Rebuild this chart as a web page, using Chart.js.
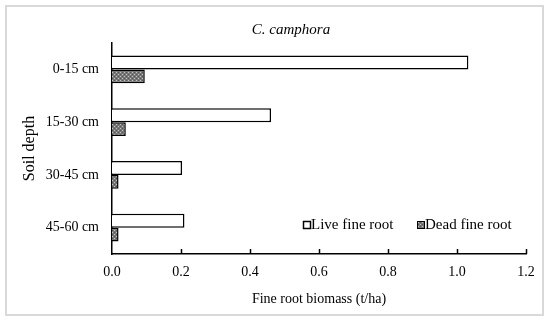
<!DOCTYPE html>
<html>
<head>
<meta charset="utf-8">
<script src="https://cdn.jsdelivr.net/npm/chart.js@4.4.0/dist/chart.umd.min.js"></script>
<style>
  body{margin:0;background:#fff;}
  #wrap{width:550px;height:322px;position:relative;}
</style>
</head>
<body>
<div id="wrap"><canvas id="chart1" width="550" height="322"></canvas></div>
<script>
// data
const depths = ["0-15 cm", "15-30 cm", "30-45 cm", "45-60 cm"];
const liveRoot = [1.033, 0.461, 0.203, 0.210];
const deadRoot = [0.095, 0.040, 0.019, 0.019];
const xTicks = [0, 0.2, 0.4, 0.6, 0.8, 1.0, 1.2];

const serif = "'Liberation Serif', 'Times New Roman', serif";

//....checkered grey fill for dead roots
function makePattern(){
  let c = document.createElement("canvas");
  c.width = 4; c.height = 4;
  let g = c.getContext("2d");
  g.fillStyle = "#777";
  g.fillRect(0,0,4,4);
  g.fillStyle = "#c4c4c4";
  g.fillRect(0,0,1,1);
  g.fillRect(2,2,1,1);
  g.fillStyle = "#555";
  g.fillRect(2,0,1,1);
  g.fillRect(0,2,1,1);
  return g.createPattern(c, "repeat");
}
const deadFill = makePattern();

//....frame, titles, inner ticks, legend
const decor = {
  id: "decor",
  beforeDraw(chart){
    let ctx = chart.ctx;
    ctx.save();
    ctx.fillStyle = "#fff";
    ctx.fillRect(0,0,chart.width,chart.height);
    ctx.strokeStyle = "#d9d9d9";
    ctx.lineWidth = 2;
    ctx.strokeRect(6,6,537,309);
    ctx.restore();
  },
  afterDraw(chart){
    let ctx = chart.ctx;
    let area = chart.chartArea;
    let xs = chart.scales.x;
    ctx.save();
    // tick marks pointing into the plot
    ctx.strokeStyle = "#000";
    ctx.lineWidth = 1.5;
    xTicks.forEach(function(v){
      if(v === 0) return;
      let px = Math.round(xs.getPixelForValue(v)) + 0.5;
      ctx.beginPath();
      ctx.moveTo(px, area.bottom);
      ctx.lineTo(px, area.bottom - 5);
      ctx.stroke();
    });
    ctx.fillStyle = "#000";
    ctx.textAlign = "center";
    ctx.textBaseline = "middle";
    ctx.font = "italic 15px " + serif;
    ctx.fillText("C. camphora", 291, 30);
    ctx.font = "14px " + serif;
    ctx.fillText("Fine root biomass (t/ha)", (area.left + area.right)/2, 299);
    ctx.save();
    ctx.translate(30, (area.top + area.bottom)/2);
    ctx.rotate(-Math.PI/2);
    ctx.font = "16px " + serif;
    ctx.fillText("Soil depth", 0, 0);
    ctx.restore();
    // legend
    ctx.textAlign = "left";
    ctx.font = "15px " + serif;
    ctx.lineWidth = 1.5;
    ctx.fillStyle = "#fff";
    ctx.fillRect(303.5, 221.5, 7, 7);
    ctx.strokeRect(303.5, 221.5, 7, 7);
    ctx.fillStyle = "#000";
    ctx.fillText("Live fine root", 311, 225.5);
    ctx.fillStyle = deadFill;
    ctx.fillRect(417.5, 221.5, 7, 7);
    ctx.lineWidth = 1;
    ctx.strokeRect(417.5, 221.5, 7, 7);
    ctx.fillStyle = "#000";
    ctx.fillText("Dead fine root", 425, 225.5);
    ctx.restore();
  }
};

const ctx1 = document.getElementById("chart1");
new Chart(ctx1, {
  type: "bar",
  data: {
    labels: depths,
    datasets: [
      {
        label: "Live fine root",
        data: liveRoot,
        backgroundColor: "#fff",
        borderColor: "#000",
        borderWidth: 1.5,
        categoryPercentage: 0.53,
        barPercentage: 1.0
      },
      {
        label: "Dead fine root",
        data: deadRoot,
        backgroundColor: deadFill,
        borderColor: "#000",
        borderWidth: 1.5,
        categoryPercentage: 0.53,
        barPercentage: 1.0
      }
    ]
  },
  options: {
    indexAxis: "y",
    responsive: false,
    animation: false,
    layout: { padding: { top: 43, right: 24, left: 0, bottom: 0 } },
    plugins: {
      legend: { display: false },
      title: { display: false },
      tooltip: { enabled: false }
    },
    scales: {
      x: {
        type: "linear",
        min: 0,
        max: 1.2,
        afterBuildTicks: function(scale){
          scale.ticks = xTicks.map(function(v){ return { value: v }; });
        },
        afterFit: function(scale){ scale.height = 68; },
        grid: { display: false, drawTicks: false },
        border: { display: true, color: "#000", width: 1.5 },
        ticks: {
          padding: 10,
          color: "#000",
          font: { family: serif, size: 14 },
          callback: function(v){ return Number(v).toFixed(1); }
        }
      },
      y: {
        afterFit: function(scale){ scale.width = 112; },
        grid: { display: false, drawTicks: false },
        border: { display: true, color: "#000", width: 1.5 },
        ticks: {
          padding: 13,
          color: "#000",
          font: { family: serif, size: 14 }
        }
      }
    }
  },
  plugins: [decor]
});
</script>
</body>
</html>
